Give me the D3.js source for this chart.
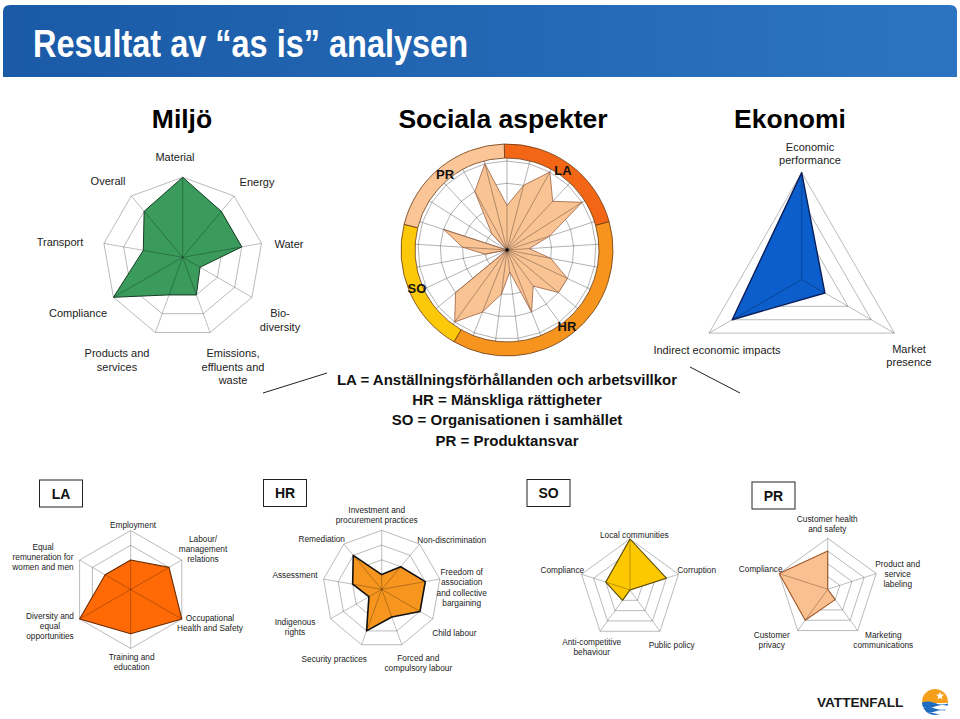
<!DOCTYPE html>
<html><head><meta charset="utf-8">
<script src="https://cdn.jsdelivr.net/npm/d3@7"></script>
<style>
html,body{margin:0;padding:0;background:#fff;}
svg{display:block;font-family:"Liberation Sans",Arial,Helvetica,sans-serif;}
</style></head>
<body>
<svg id="chart" width="960" height="719"></svg>
<script>
// ---------------- DATA ----------------
const titleText = "Resultat av \u201cas is\u201d analysen";
const sectionTitles = ["Milj\u00f6", "Sociala aspekter", "Ekonomi"];
const scaleMax = 4;
const gridLevels = [1, 2, 3, 4];

const miljoCategories = ["Material", "Energy", "Water", "Bio-\ndiversity", "Emissions,\neffluents and\nwaste",
  "Products and\nservices", "Compliance", "Transport", "Overall"];
const miljoValues = [4, 3, 3, 1, 2, 2, 4, 2, 3];

const ekonomiCategories = ["Economic\nperformance", "Market\npresence", "Indirect economic impacts"];
const ekonomiValues = [4, 1, 3];

const laCategories = ["Employment", "Labour/\nmanagement\nrelations", "Occupational\nHealth and Safety",
  "Training and\neducation", "Diversity and\nequal\nopportunities", "Equal\nremuneration for\nwomen and men"];
const laValues = [2, 3, 4, 3, 4, 2];

const hrCategories = ["Investment and\nprocurement practices", "Non-discrimination",
  "Freedom of\nassociation\nand collective\nbargaining", "Child labour", "Forced and\ncompulsory labour",
  "Security practices", "Indigenous\nrights", "Assessment", "Remediation"];
const hrValues = [1, 2, 3, 3, 2, 3, 1, 2, 3];

const soCategories = ["Local communities", "Corruption", "Public policy", "Anti-competitive\nbehaviour", "Compliance"];
const soValues = [4, 3, 0, 1, 2];

const prCategories = ["Customer health\nand safety", "Product and\nservice\nlabeling", "Marketing\ncommunications",
  "Customer\nprivacy", "Compliance"];
const prValues = [3, 0, 1, 3, 4];

const socialGroups = ["LA", "HR", "SO", "PR"];
const socialValues = [].concat(laValues, hrValues, soValues, prValues);
const legendLines = ["LA = Anst\u00e4llningsf\u00f6rh\u00e5llanden och arbetsvillkor", "HR = M\u00e4nskliga r\u00e4ttigheter",
  "SO = Organisationen i samh\u00e4llet", "PR = Produktansvar"];
const logoText = "VATTENFALL";

// ---------------- LAYOUT / STYLE ----------------
const svg = d3.select("#chart");
const defs = svg.append("defs");
const grad = defs.append("linearGradient").attr("id", "bar").attr("x1", "0").attr("x2", "1").attr("y1", "0").attr("y2", "0");
grad.append("stop").attr("offset", "0").attr("stop-color", "#1a5aa6");
grad.append("stop").attr("offset", "1").attr("stop-color", "#2c74c1");

// title bar
svg.append("path").attr("d", "M3,77 L3,12 Q3,5 10,5 L950,5 Q957,5 957,12 L957,77 Z").attr("fill", "url(#bar)");
svg.append("text").attr("x", 33).attr("y", 57).attr("fill", "#fff")
  .attr("font-weight", "bold").attr("font-size", 39)
  .attr("textLength", 435).attr("lengthAdjust", "spacingAndGlyphs").text(titleText);

// section titles
[[182, sectionTitles[0]], [503, sectionTitles[1]], [790, sectionTitles[2]]].forEach(([x, t]) => {
  svg.append("text").attr("x", x).attr("y", 128).attr("text-anchor", "middle")
    .attr("font-size", 26.5).attr("font-weight", "bold").attr("fill", "#000").text(t);
});

function multiline(g, txt, x, y, lh, size, color, weight) {
  const t = g.append("text").attr("text-anchor", "middle").attr("font-size", size).attr("fill", color)
    .attr("font-weight", weight || "normal");
  txt.split("\n").forEach((s, i) => t.append("tspan").attr("x", x).attr("y", y + i * lh).text(s));
}

function radar(cfg) {
  const n = cfg.values.length;
  const ang = d3.scaleLinear().domain([0, n]).range([0, 2 * Math.PI]);
  const rad = d3.scaleLinear().domain([0, scaleMax]).range([0, cfg.r]);
  const g = svg.append("g").attr("transform", `translate(${cfg.cx},${cfg.cy})`);
  const web = d3.lineRadial().angle((d, i) => ang(i)).radius(d => rad(d)).curve(d3.curveLinearClosed);
  g.selectAll("path.ring").data(gridLevels).join("path").attr("class", "ring")
    .attr("d", l => web(d3.range(n).map(() => l)))
    .attr("fill", "none").attr("stroke", cfg.grid || "#a8a8a8").attr("stroke-width", 0.8);
  g.append("path").attr("d", web(cfg.values)).attr("fill", cfg.fill);
  const sl = cfg.spokeR || cfg.r;
  g.selectAll("line.spoke").data(d3.range(n)).join("line").attr("class", "spoke")
    .attr("x1", 0).attr("y1", 0)
    .attr("x2", i => sl * Math.sin(ang(i))).attr("y2", i => -sl * Math.cos(ang(i)))
    .attr("stroke", "#000").attr("stroke-opacity", cfg.spokeOp || 0.33).attr("stroke-width", 0.8);
  g.append("path").attr("d", web(cfg.values)).attr("fill", "none")
    .attr("stroke", cfg.stroke).attr("stroke-width", cfg.sw).attr("stroke-linejoin", "round");
  if (cfg.labels) {
    cfg.labels.forEach((txt, i) => {
      const p = cfg.labelPos[i];
      multiline(svg, txt, p[0], p[1], cfg.lh, cfg.fs, "#222");
    });
  }
  return g;
}

// Miljö
radar({cx: 182.7, cy: 257.3, r: 80, values: miljoValues, fill: "#3a9b5d", stroke: "#173d24", sw: 1,
  labels: miljoCategories, fs: 11, lh: 13.5,
  labelPos: [[175, 161], [257, 186], [289, 248], [280, 317], [233, 357], [117, 357], [78, 317], [60, 246], [108, 185]]});

// Ekonomi
radar({cx: 801.7, cy: 279.6, r: 107, values: ekonomiValues, fill: "#0b5ecb", stroke: "#0a1e5a", sw: 1.4,
  labels: ekonomiCategories, fs: 11, lh: 12.5,
  labelPos: [[810, 151], [909, 353], [717, 354]]});

// Sociala aspekter
const scx = 507, scy = 250;
const ringBreaks = [-1.5, 74.5, 210, 284, 358.5];
const ringColors = ["#f26616", "#f7941d", "#fcc80a", "#fbc597"];
const arc = d3.arc().innerRadius(92).outerRadius(106);
const sg = svg.append("g").attr("transform", `translate(${scx},${scy})`);
sg.selectAll("path.seg").data(socialGroups).join("path").attr("class", "seg")
  .attr("d", (d, i) => arc({startAngle: ringBreaks[i] * Math.PI / 180, endAngle: ringBreaks[i + 1] * Math.PI / 180}))
  .attr("fill", (d, i) => ringColors[i]).attr("stroke", "#6a3a12").attr("stroke-width", 0.8);
radar({cx: scx, cy: scy, r: 89, spokeR: 92, values: socialValues, fill: "#fac394", stroke: "#9a6040", sw: 0.8,
  spokeOp: 0.38, grid: "#a0a0a0"});
svg.append("circle").attr("cx", scx).attr("cy", scy).attr("r", 1.8).attr("fill", "#111");
[[445, 179], [563, 175], [417, 293], [567, 331]].forEach((p, i) => {
  const lab = ["PR", "LA", "SO", "HR"][i];
  svg.append("text").attr("x", p[0]).attr("y", p[1]).attr("text-anchor", "middle")
    .attr("font-size", 13).attr("font-weight", "bold").attr("fill", "#111").text(lab);
});
legendLines.forEach((t, i) => {
  svg.append("text").attr("x", 507).attr("y", 385 + i * 20.2).attr("text-anchor", "middle")
    .attr("font-size", 15).attr("font-weight", "bold").attr("fill", "#111").text(t);
});
svg.append("line").attr("x1", 263).attr("y1", 393).attr("x2", 327).attr("y2", 373).attr("stroke", "#222").attr("stroke-width", 1);
svg.append("line").attr("x1", 690).attr("y1", 367).attr("x2", 740).attr("y2", 393).attr("stroke", "#222").attr("stroke-width", 1);

// boxes
[[39.5, 480, "LA"], [263.5, 479.5, "HR"], [527, 479.5, "SO"], [752, 482, "PR"]].forEach(([x, y, t]) => {
  svg.append("rect").attr("x", x).attr("y", y).attr("width", 43).attr("height", 27)
    .attr("fill", "#fff").attr("stroke", "#222").attr("stroke-width", 1);
  svg.append("text").attr("x", x + 21.5).attr("y", y + 18.5).attr("text-anchor", "middle")
    .attr("font-size", 14).attr("font-weight", "bold").attr("fill", "#111").text(t);
});

// LA
radar({cx: 130.7, cy: 589.5, r: 59, values: laValues, fill: "#ff6a06", stroke: "#6e2a00", sw: 1.1,
  labels: laCategories, fs: 8.3, lh: 10,
  labelPos: [[133, 527.5], [203, 541.5], [210, 621], [131.7, 660], [50, 619], [43, 550]]});
// HR
radar({cx: 381.7, cy: 589.3, r: 59, values: hrValues, fill: "#f7961e", stroke: "#111", sw: 1.6,
  labels: hrCategories, fs: 8.3, lh: 10.3,
  labelPos: [[376.7, 512.5], [451.7, 543], [461.7, 575], [454.3, 635.5], [418.3, 661], [334.3, 662],
    [295, 625], [295, 578], [321.7, 542]]});
// SO
radar({cx: 630, cy: 590, r: 51, values: soValues, fill: "#fdc800", stroke: "#5a4a00", sw: 1.1,
  labels: soCategories, fs: 8.3, lh: 10,
  labelPos: [[634.3, 537.5], [696.7, 573], [671.7, 648], [591.7, 645], [562.3, 572.5]]});
// PR
radar({cx: 827.7, cy: 589.3, r: 51, values: prValues, fill: "#fbc08f", stroke: "#a0582a", sw: 1.1,
  labels: prCategories, fs: 8.3, lh: 10,
  labelPos: [[827.3, 521.5], [897.7, 566.5], [883.3, 637.5], [771.7, 637.5], [760.7, 571.5]]});

// Vattenfall logo
svg.append("text").attr("x", 817).attr("y", 706.5).attr("font-size", 13.6).attr("font-weight", "bold")
  .attr("fill", "#1a1a1a").text(logoText);
defs.append("clipPath").attr("id", "lc").append("circle").attr("cx", 0).attr("cy", 0).attr("r", 13);
const lg = svg.append("g").attr("transform", "translate(935,702)");
const lgi = lg.append("g").attr("clip-path", "url(#lc)");
lgi.append("rect").attr("x", -13).attr("y", -13).attr("width", 26).attr("height", 14).attr("fill", "#f5a01c");
lgi.append("rect").attr("x", -13).attr("y", 1).attr("width", 26).attr("height", 13).attr("fill", "#fff");
["M-14,1 Q-7,-2 0,1 T14,1 L14,4.5 Q7,1.5 0,4.5 T-14,4.5 Z",
 "M-14,6.5 Q-7,4 0,6.5 T14,6.5 L14,9.5 Q7,7 0,9.5 T-14,9.5 Z",
 "M-14,11.5 Q-7,9.5 0,11.5 T14,11.5 L14,14 L-14,14 Z"].forEach(d =>
  lgi.append("path").attr("d", d).attr("fill", "#1e6cc0"));
const star = d3.range(10).map(i => {
  const a = i * Math.PI / 5, rr = i % 2 ? 1.8 : 4.2;
  return [5 + rr * Math.sin(a), -6 - rr * Math.cos(a)];
});
lg.append("path").attr("d", d3.line()(star) + "Z").attr("fill", "#fff");
</script>
</body></html>
